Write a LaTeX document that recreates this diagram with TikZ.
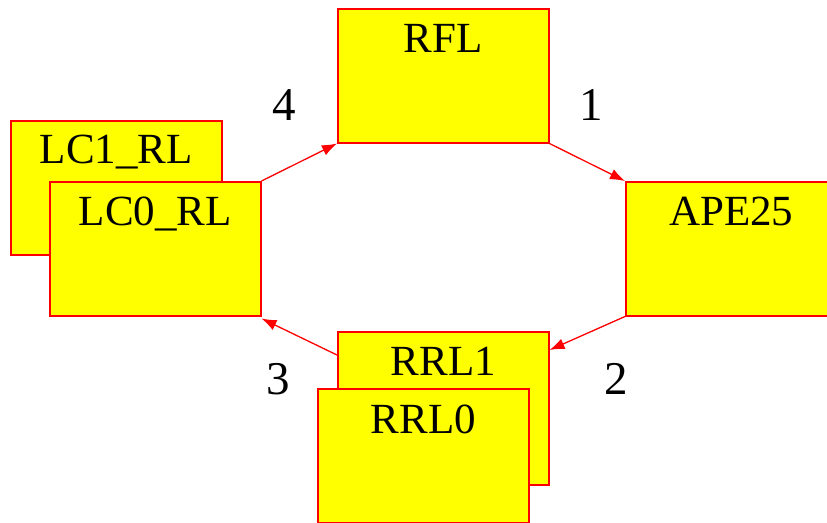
\documentclass[tikz,border=0pt]{standalone}
\usepackage{fontspec}
\setmainfont{Liberation Serif}
\usetikzlibrary{arrows.meta}

\definecolor{unitfill}{RGB}{255,255,0}
\definecolor{unitline}{RGB}{255,0,0}

\tikzset{
  unit/.style={rectangle, draw=unitline, fill=unitfill, line width=1.5pt, minimum width=211pt, minimum height=134pt, anchor=north west, inner sep=0pt},
  unitname/.style={anchor=base, inner sep=0pt, font=\fontsize{43}{50}\selectfont},
  hop/.style={draw=unitline, line width=1.3pt, -{Latex[length=15pt,width=11pt]}},
  hopnum/.style={anchor=base, inner sep=0pt, font=\fontsize{47}{56}\selectfont}
}

\begin{document}
\begin{tikzpicture}[x=1pt,y=-1pt]
      \clip (0,0) rectangle (827,522);
      \node[name=rfl, unit] at (337,8){};
      \node[name=ape, unit] at (625,181){};
      \node[name=lcone, unit] at (10,120){};
      \node[name=lczero, unit] at (49,181){};
      \node[name=rrlone, unit, minimum height=153pt] at (337,331){};
      \node[name=rrlzero, unit] at (317,388){};
      \node[name=rfltxt, unitname] at ([yshift=-44pt]rfl.north){RFL};
      \node[name=apetxt, unitname] at ([yshift=-44pt]ape.north){APE25};
      \node[name=lconetxt, unitname] at ([yshift=-43pt]lcone.north){LC1\_RL};
      \node[name=lczerotxt, unitname] at ([yshift=-44pt]lczero.north){LC0\_RL};
      \node[name=rrlonetxt, unitname] at ([yshift=-44pt]rrlone.north){RRL1};
      \node[name=rrlzerotxt, unitname] at ([yshift=-45pt]rrlzero.north){RRL0};
      \draw[hop] (lczero.north east) -- (rfl.south west);
      \draw[hop] (rfl.south east) -- (ape.north west);
      \draw[hop] (ape.south west) -- ([yshift=-19pt]rrlone.north east);
      \draw[hop] ([yshift=-24pt]rrlone.north west) -- ([yshift=-2pt]lczero.south east);
      \node[name=hopone, hopnum] at (591,120){1};
      \node[name=hoptwo, hopnum] at (616,394){2};
      \node[name=hopthree, hopnum] at (278,394){3};
      \node[name=hopfour, hopnum] at (284,120){4};
   \end{tikzpicture}
\end{document}
